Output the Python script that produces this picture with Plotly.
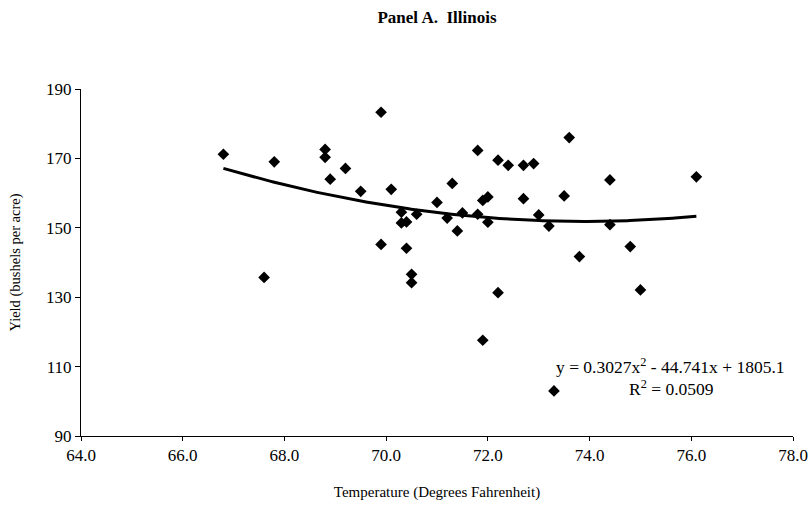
import numpy as np
import plotly.graph_objects as go

temperature = [66.8, 67.6, 67.8, 68.8, 68.8, 68.9, 69.2, 69.5, 69.9, 69.9,
               70.1, 70.3, 70.3, 70.4, 70.4, 70.5, 70.5, 70.6, 71.0, 71.2,
               71.3, 71.4, 71.5, 71.8, 71.8, 71.9, 71.9, 72.0, 72.0, 72.2,
               72.2, 72.4, 72.7, 72.7, 72.9, 73.0, 73.2, 73.3, 73.5, 73.6,
               73.8, 74.4, 74.4, 74.8, 75.0, 76.1]
yield_bu = [171.2, 135.7, 169.0, 172.6, 170.3, 164.0, 167.1, 160.5, 183.3, 145.2,
            161.1, 154.5, 151.4, 151.7, 144.1, 136.6, 134.2, 153.9, 157.3, 152.8,
            162.8, 149.1, 154.3, 172.3, 153.9, 157.9, 117.6, 158.9, 151.6, 169.5,
            131.3, 168.0, 168.0, 158.4, 168.5, 153.7, 150.5, 103.0, 159.2, 176.0,
            141.7, 163.8, 150.9, 144.6, 132.1, 164.7]

# Trendline coefficients as printed on the chart
coef_a, coef_b, coef_c = 0.3027, -44.741, 1805.1

x_ticks = [64, 66, 68, 70, 72, 74, 76, 78]
y_ticks = [90, 110, 130, 150, 170, 190]

xs = np.linspace(min(temperature), max(temperature), 200)
ys = coef_a * xs**2 + coef_b * xs + coef_c

font_family = "Liberation Serif, Times New Roman, serif"

W, H = 811, 505
ML, MR, MT, MB = 81, 18, 89, 69

fig = go.Figure()
fig.add_trace(go.Scatter(x=xs, y=ys, mode="lines",
                         line=dict(color="black", width=3), hoverinfo="skip"))
fig.add_trace(go.Scatter(x=temperature, y=yield_bu, mode="markers",
                         marker=dict(symbol="diamond", size=9, color="black")))

pw, ph = W - ML - MR, H - MT - MB


def px_x(sx):
    return (sx - ML) / pw


def px_y(sy):
    return 1 - (sy - MT) / ph


fig.update_layout(
    width=W, height=H,
    margin=dict(l=ML, r=MR, t=MT, b=MB, autoexpand=False),
    paper_bgcolor="white", plot_bgcolor="white",
    showlegend=False,
    font=dict(family=font_family, color="black", size=17),
    title=dict(text="<b>Panel A.  Illinois</b>", x=0.5, xref="paper",
               y=1 - 17.5 / H, yref="container", xanchor="center", yanchor="middle",
               font=dict(size=17, family=font_family, color="black")),
    xaxis=dict(range=[64, 78], tickvals=x_ticks,
               ticktext=[f"{v:.1f}" for v in x_ticks],
               showline=True, linecolor="black", linewidth=1,
               ticks="outside", ticklen=4, tickcolor="black",
               tickfont=dict(size=17),
               showgrid=False, zeroline=False, automargin=False,
               title=dict(text="Temperature (Degrees Fahrenheit)", standoff=22,
                          font=dict(size=15))),
    yaxis=dict(range=[90, 190], tickvals=y_ticks,
               showline=True, linecolor="black", linewidth=1,
               ticks="outside", ticklen=5, tickcolor="black",
               tickfont=dict(size=17),
               showgrid=False, zeroline=False, automargin=False,
               title=dict(text="Yield (bushels per acre)", standoff=22,
                          font=dict(size=14.5))),
    annotations=[
        dict(text="y = 0.3027x<sup>2</sup> - 44.741x + 1805.1",
             x=px_x(787), y=px_y(366), xref="paper", yref="paper",
             xanchor="right", yanchor="middle", showarrow=False,
             font=dict(size=17.5)),
        dict(text="R<sup>2</sup> = 0.0509",
             x=px_x(671), y=px_y(388), xref="paper", yref="paper",
             xanchor="center", yanchor="middle", showarrow=False,
             font=dict(size=17.5)),
    ],
)

fig.write_html(
    "out.html",
    config={"displayModeBar": False},
    post_script="document.body.style.margin='0';document.body.style.overflow='hidden';",
)
